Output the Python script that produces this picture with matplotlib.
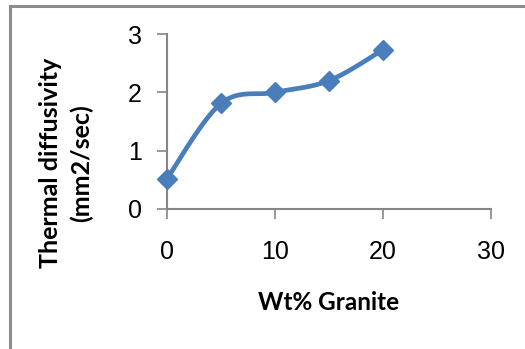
import numpy as np
import matplotlib.pyplot as plt
from matplotlib.lines import Line2D

wt_granite = [0, 5, 10, 15, 20]
diffusivity = [0.52, 1.81, 2.0, 2.2, 2.73]
x_ticks = [0, 10, 20, 30]
y_ticks = [0, 1, 2, 3]

LINE_BLUE = "#4a7ebb"
AXIS_GREY = "#868686"


def smooth_curve(xs, ys, steps=30):
    """Catmull-Rom curve through the points, like a spreadsheet smoothed line."""
    pts = np.column_stack([xs, ys]).astype(float)
    padded = np.vstack([pts[0], pts, pts[-1]])
    out = []
    t = np.linspace(0, 1, steps)[:, None]
    for i in range(1, len(padded) - 2):
        p0, p1, p2, p3 = padded[i - 1], padded[i], padded[i + 1], padded[i + 2]
        seg = 0.5 * ((2 * p1) + (-p0 + p2) * t
                     + (2 * p0 - 5 * p1 + 4 * p2 - p3) * t ** 2
                     + (-p0 + 3 * p1 - 3 * p2 + p3) * t ** 3)
        out.append(seg)
    out = np.vstack(out)
    return out[:, 0], out[:, 1]


plt.rcParams["font.family"] = "Liberation Sans"

fig = plt.figure(figsize=(5.25, 3.49), dpi=100)
ax = fig.add_axes([167 / 525, 1 - 209 / 349, (491 - 167) / 525, (209 - 34) / 349])

sx, sy = smooth_curve(wt_granite, diffusivity)
ax.plot(sx, sy, color=LINE_BLUE, lw=3.4, solid_capstyle="round", zorder=3,
        clip_on=False)
ax.plot(wt_granite, diffusivity, linestyle="none", marker="D", ms=10.5,
        color=LINE_BLUE, mec=LINE_BLUE, zorder=4, clip_on=False)

ax.set_xlim(0, 30)
ax.set_ylim(0, 3)
ax.set_xticks(x_ticks)
ax.set_yticks(y_ticks)
ax.tick_params(direction="out", length=7, width=1.2, color=AXIS_GREY,
               labelsize=18)
ax.tick_params(axis="x", pad=15)
ax.tick_params(axis="y", pad=11)

for side in ("top", "right"):
    ax.spines[side].set_visible(False)
for side in ("left", "bottom"):
    ax.spines[side].set_color(AXIS_GREY)
    ax.spines[side].set_linewidth(1.5)

fig.text(329 / 525, 1 - 303 / 349, "Wt% Granite", ha="center", va="center",
         fontsize=17.5, fontweight="bold", family="Lato")
fig.text(66 / 525, 1 - 163 / 349, "Thermal diffusivity\n(mm2/sec)", ha="center",
         va="center", rotation=90, fontsize=18, fontweight="bold",
         family="Lato", linespacing=1.4)

# chart area frame
fig.add_artist(Line2D([9.5 / 525, 9.5 / 525], [0, 1 - 5.5 / 349],
                      transform=fig.transFigure, color="#8c8c8c", lw=2.2))
fig.add_artist(Line2D([9.5 / 525, 1], [1 - 5.5 / 349, 1 - 5.5 / 349],
                      transform=fig.transFigure, color="#8c8c8c", lw=2.2))

fig.savefig("out.png", dpi=100)
